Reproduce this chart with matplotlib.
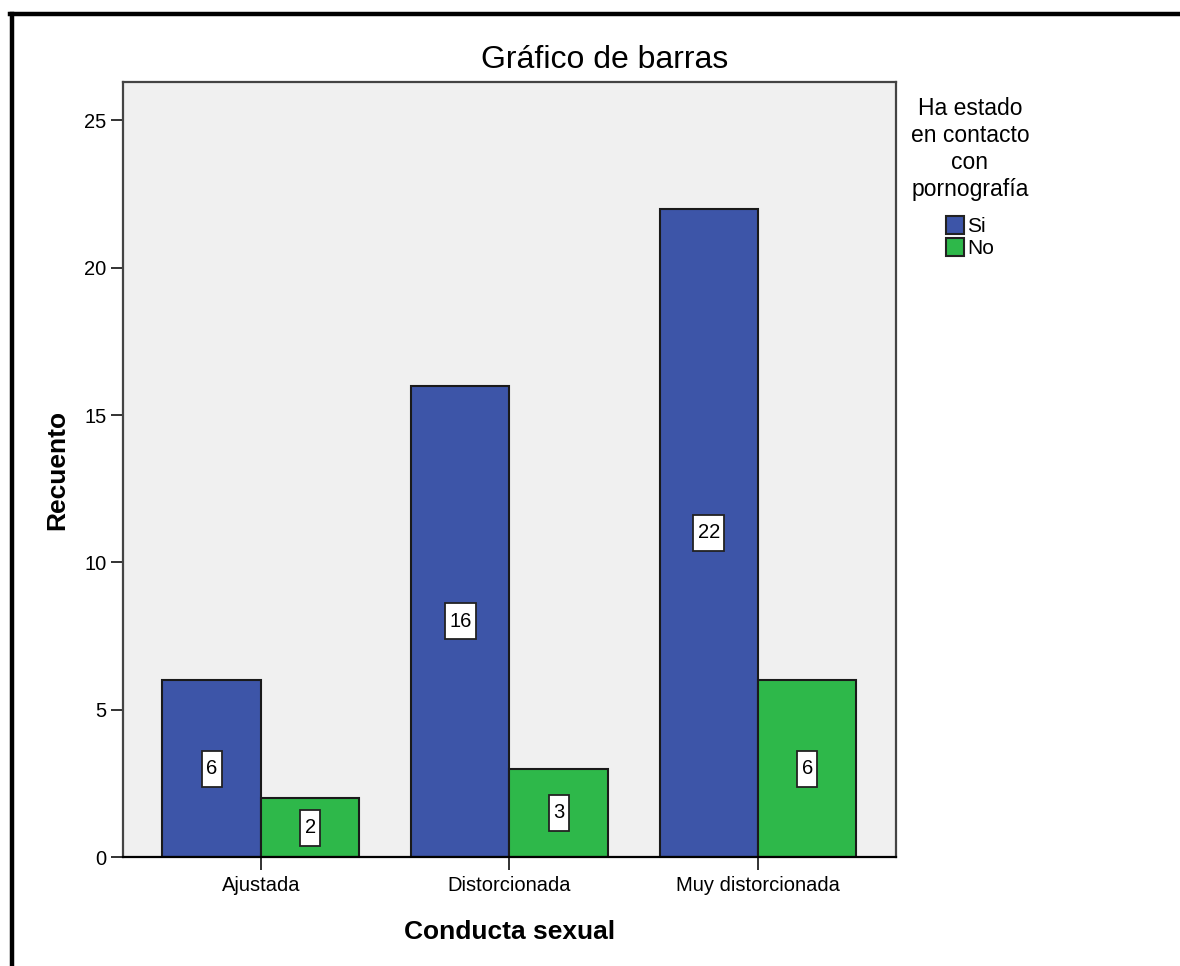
import matplotlib
matplotlib.use("Agg")
import numpy as np
import matplotlib.pyplot as plt
from matplotlib.lines import Line2D
from matplotlib.patches import Patch
from matplotlib.path import Path

categories = ["Ajustada", "Distorcionada", "Muy distorcionada"]
series_names = ["Si", "No"]
si_counts = [6, 16, 22]
no_counts = [2, 3, 6]
y_ticks = [0, 5, 10, 15, 20, 25]

blue = "#3D55A8"
green = "#2EB84A"

plt.rcParams['font.family'] = ['Liberation Sans', 'DejaVu Sans']


def tall_box(x0, y0, width, height, mutation_size):
    # label box: a little padding on the sides, more above and below
    px = 0.22 * mutation_size
    py = 0.42 * mutation_size
    x0, y0 = x0 - px, y0 - py
    x1, y1 = x0 + width + 2 * px, y0 + height + 2 * py
    return Path([(x0, y0), (x1, y0), (x1, y1), (x0, y1), (x0, y0)], closed=True)


fig = plt.figure(figsize=(11.8, 9.66), dpi=100)
ax = fig.add_axes([0.1042, 0.1128, 0.6551, 0.8023])
ax.set_facecolor("#F0F0F0")

x = np.arange(len(categories))
w = 0.396
bars_si = ax.bar(x - w / 2, si_counts, w, color=blue, edgecolor="#1a1a1a", linewidth=1.5, zorder=2)
bars_no = ax.bar(x + w / 2, no_counts, w, color=green, edgecolor="#1a1a1a", linewidth=1.5, zorder=2)

# value labels in white boxes at mid height
for bars in (bars_si, bars_no):
    for b in bars:
        h = b.get_height()
        ax.text(b.get_x() + b.get_width() / 2, h / 2, f"{int(h)}", ha="center", va="center",
                fontsize=14.5, zorder=3,
                bbox=dict(boxstyle=tall_box, facecolor="white", edgecolor="#222222", linewidth=1.3))

ax.set_xlim(-0.555, 2.555)
ax.set_ylim(0, 26.3)
ax.set_xticks(x)
ax.set_xticklabels(categories)
ax.set_yticks(y_ticks)
ax.tick_params(axis="both", labelsize=14.5, length=9, width=1.3, color="#222222", pad=3)
ax.tick_params(axis="x", pad=5)

for side in ("top", "right", "left"):
    ax.spines[side].set_color("#444444")
    ax.spines[side].set_linewidth(1.6)
ax.spines["bottom"].set_color("black")
ax.spines["bottom"].set_linewidth(1.6)

ax.set_xlabel("Conducta sexual", fontsize=19, fontweight="bold", labelpad=18)
ax.set_ylabel("Recuento", fontsize=19, fontweight="bold", labelpad=11)

fig.text(0.5127, 0.9379, "Gráfico de barras", ha="center", va="center", fontsize=23)

handles = [Patch(facecolor=blue, edgecolor="#222222", linewidth=1.5),
           Patch(facecolor=green, edgecolor="#222222", linewidth=1.5)]
leg = fig.legend(handles, series_names, title="Ha estado\nen contacto\ncon\npornografía",
                 loc="upper center", bbox_to_anchor=(970 / 1180, 1 - 97 / 966),
                 frameon=False, fontsize=15, title_fontsize=16.5, alignment="center",
                 handlelength=0.85, handleheight=0.95, handletextpad=0.15,
                 labelspacing=0.08, borderpad=0, borderaxespad=0)
leg.get_title().set_multialignment("center")
leg.get_title().set_linespacing(1.22)
leg._legend_box.sep = 11

# border lines of the original frame
fig.add_artist(Line2D([12 / 1180, 12 / 1180], [0, 1 - 14 / 966], color="black", linewidth=3.2,
                      transform=fig.transFigure))
fig.add_artist(Line2D([10 / 1180, 1], [1 - 14 / 966, 1 - 14 / 966], color="black", linewidth=3.2,
                      transform=fig.transFigure))

fig.savefig("out.png", dpi=100)
